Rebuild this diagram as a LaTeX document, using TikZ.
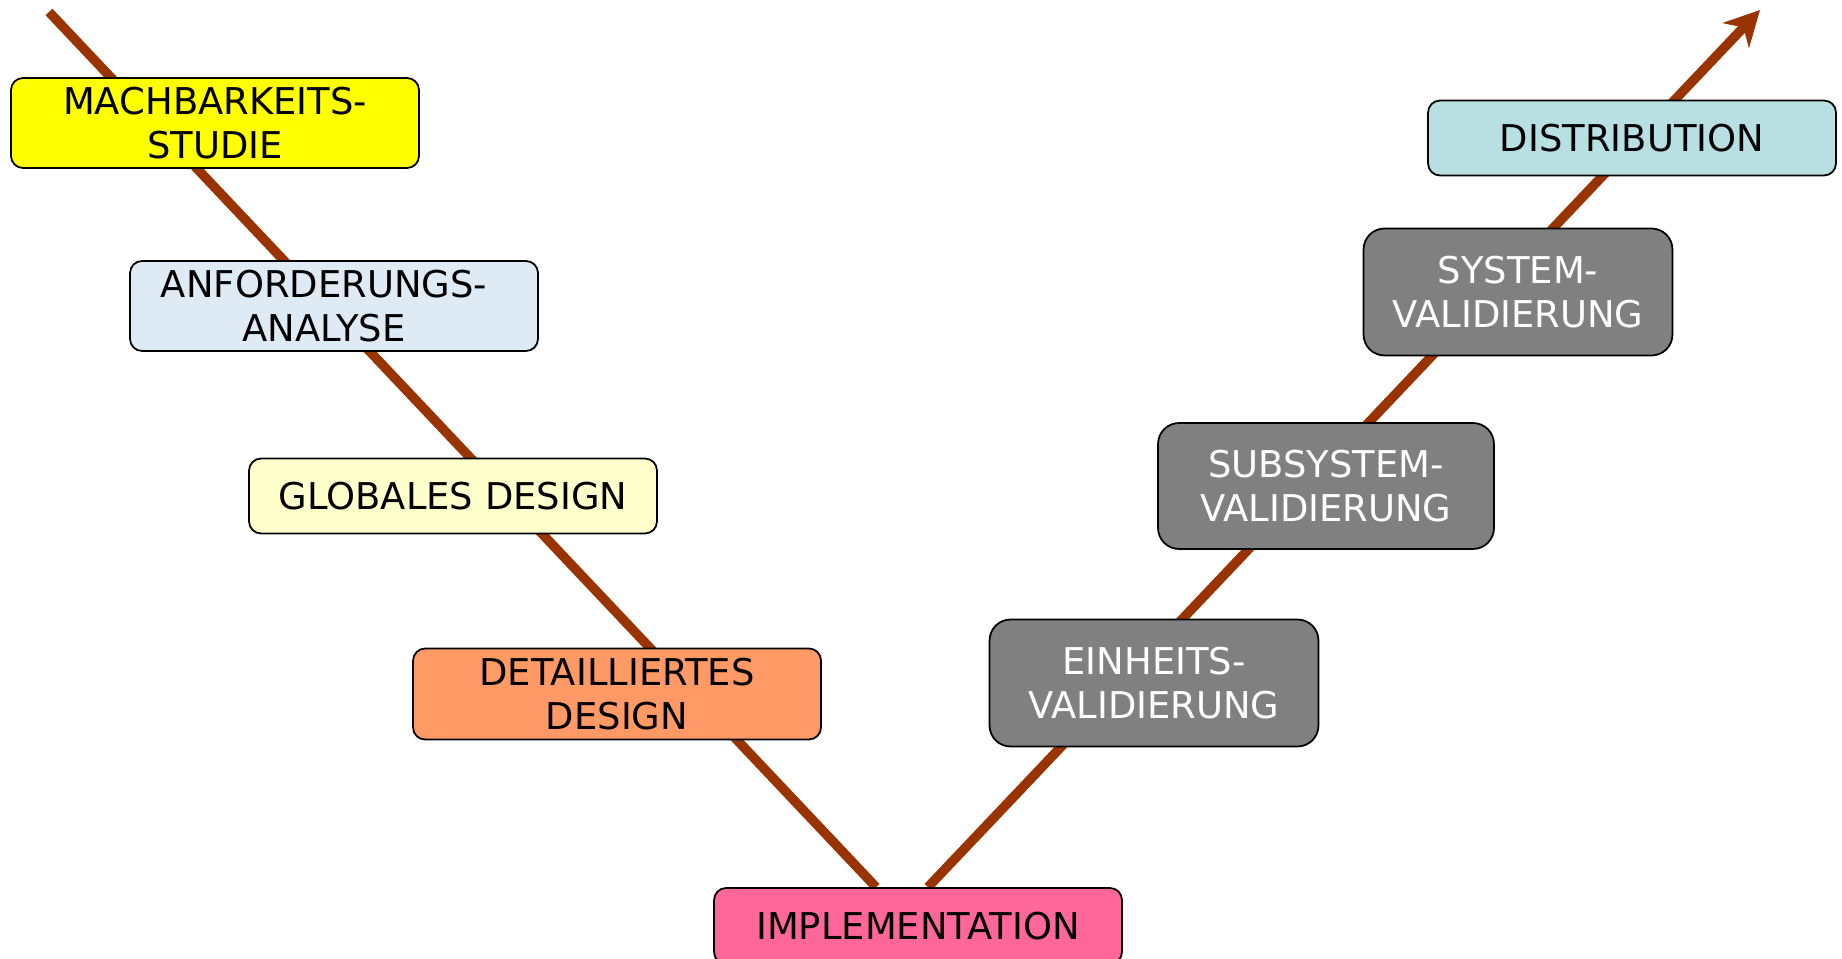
\documentclass[tikz,border=0pt]{standalone}
\usepackage{fontspec}
\setmainfont{DejaVu Sans}
\usetikzlibrary{arrows.meta}
\usetikzlibrary{backgrounds}

\definecolor{vbrown}{HTML}{993300}
\definecolor{vyellow}{HTML}{FFFF00}
\definecolor{vblue}{HTML}{DEEBF5}
\definecolor{vcream}{HTML}{FFFFCC}
\definecolor{vorange}{HTML}{FF9966}
\definecolor{vpink}{HTML}{FF6699}
\definecolor{vgray}{HTML}{808080}
\definecolor{vteal}{HTML}{B8DFE2}

\begin{document}
\begin{tikzpicture}[x=0.02cm, y=-0.02cm,
    phase/.style={draw=black, line width=1pt, rounded corners=0.24cm, inner sep=0pt,
        align=center, font=\fontsize{21}{25}\selectfont,
        minimum width=8.16cm, minimum height=1.8cm},
    check/.style={phase, fill=vgray, text=white, rounded corners=0.42cm},
    vline/.style={draw=vbrown, line width=0.19cm}]
            \useasboundingbox (0,0) rectangle (1842,959);
            \clip (0,0) rectangle (1842,959);

            % left branch
            \node[phase, fill=vyellow] (mach) at (215,123) {MACHBARKEITS-\\STUDIE};
            \node[phase, fill=vblue] (anf) at (334,306) {ANFORDERUNGS-\hspace*{0.4cm}\\ANALYSE\hspace*{0.4cm}};
            \node[phase, fill=vcream, minimum height=1.5cm] (glob) at (453,496) {GLOBALES DESIGN};
            \node[phase, fill=vorange, minimum height=1.82cm] (det) at (617,694) {DETAILLIERTES\\DESIGN};
            \node[phase, fill=vpink, minimum height=1.52cm] (impl) at (918,926) {IMPLEMENTATION};

            % right branch
            \node[check, minimum width=6.58cm, minimum height=2.54cm] (einh) at (1154,683) {EINHEITS-\\VALIDIERUNG};
            \node[check, minimum width=6.72cm, minimum height=2.52cm] (subs) at (1326,486) {SUBSYSTEM-\\VALIDIERUNG};
            \node[check, minimum width=6.18cm, minimum height=2.54cm] (sys) at (1518,292) {SYSTEM-\\VALIDIERUNG};
            \node[phase, fill=vteal, minimum height=1.5cm] (dist) at (1632,138) {DISTRIBUTION};

            \coordinate (start) at (49,12);
            \coordinate (tip) at (1760,10);

            \begin{pgfonlayer}{background}
            \draw[vline] (start) -- ([xshift=-0.84cm]impl.north);
            \draw[vline, -{Stealth[length=0.7cm, width=0.72cm, inset=0.22cm]}] ([xshift=0.2cm]impl.north) -- (tip);
            \end{pgfonlayer}
        \end{tikzpicture}
\end{document}
